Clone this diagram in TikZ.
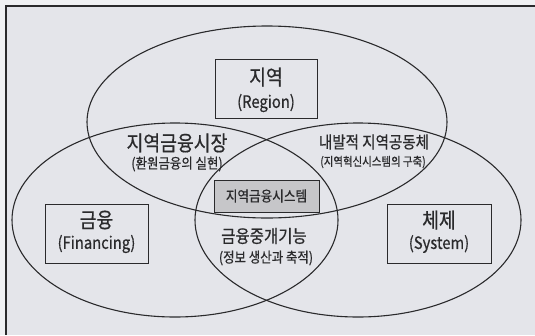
\documentclass[tikz,border=0pt]{standalone}
\usepackage{fontspec}
\setmainfont{Noto Sans CJK KR}
\newfontfamily\kr[FakeStretch=0.87,FakeBold=0.6]{Noto Sans CJK KR}
\definecolor{bgin}{HTML}{E4E5EA}
\definecolor{bgout}{HTML}{F0F1F3}
\definecolor{ink}{HTML}{2A2A2C}
\definecolor{boxgray}{HTML}{C6C6C9}
\begin{document}
\begin{tikzpicture}[x=1pt,y=-1pt,
  venn/.style={draw=ink,line width=1.1pt},
  framebox/.style={draw=ink,line width=0.9pt,inner sep=0pt},
  lbl/.style={inner sep=0pt,text=ink,font=\kr},
]
\useasboundingbox (0,0) rectangle (535,335);
\fill[bgout] (0,0) rectangle (535,335);
\fill[bgin] (6,6) rectangle (535,335);
\draw[ink,line width=1.3pt] (535,6) -- (6,6) -- (6,335);
% ellipses
\draw[venn] (267,122) ellipse [x radius=180,y radius=96];
\draw[venn] (175,220) ellipse [x radius=163,y radius=97];
\draw[venn] (358,220) ellipse [x radius=163,y radius=97];
% boxes
\node[framebox,minimum width=102pt,minimum height=59pt] (region) at (266,88.5) {};
\node[lbl,font=\kr\fontsize{21}{21}\selectfont] (regionK) at (266,77) {지역};
\node[lbl,font=\kr\fontsize{17}{17}\selectfont] (regionE) at (266,103) {(Region)};
\node[framebox,minimum width=103pt,minimum height=59pt] (fin) at (96.5,233.5) {};
\node[lbl,font=\kr\fontsize{21}{21}\selectfont] (finK) at (96.5,220) {금융};
\node[lbl,font=\kr\fontsize{17}{17}\selectfont] (finE) at (96.5,244) {(Financing)};
\node[framebox,minimum width=104pt,minimum height=59pt] (sys) at (439,233.5) {};
\node[lbl,font=\kr\fontsize{21}{21}\selectfont] (sysK) at (439,220) {체제};
\node[lbl,font=\kr\fontsize{17}{17}\selectfont] (sysE) at (439,244) {(System)};
\node[framebox,fill=boxgray,minimum width=105pt,minimum height=32pt] (rfs) at (266.5,196) {};
\node[lbl,font=\kr\fontsize{14.5}{15}\selectfont] (rfsT) at (266.5,196) {지역금융시스템};
% overlap labels
\node[lbl,font=\kr\fontsize{21}{21}\selectfont] (mkt) at (177,143) {지역금융시장};
\node[lbl,font=\kr\fontsize{14.3}{15}\selectfont] (mktS) at (177,164) {(환원금융의 실현)};
\node[lbl,font=\kr\fontsize{16.7}{17}\selectfont] (comm) at (374,142) {내발적 지역공동체};
\node[lbl,font=\kr\fontsize{12}{12}\selectfont] (commS) at (373,162) {(지역혁신시스템의 구축)};
\node[lbl,font=\kr\fontsize{17.8}{18}\selectfont] (inter) at (264,236) {금융중개기능};
\node[lbl,font=\kr\fontsize{14.3}{15}\selectfont] (interS) at (266,258) {(정보 생산과 축적)};
\end{tikzpicture}
\end{document}
